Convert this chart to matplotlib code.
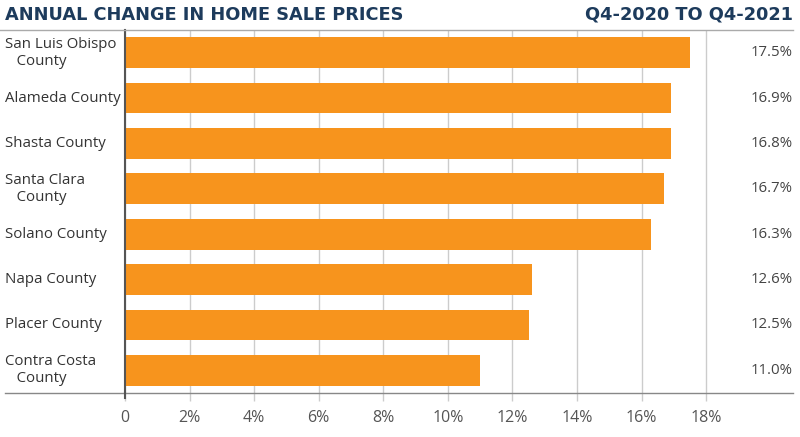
import matplotlib.pyplot as plt
from matplotlib.lines import Line2D

counties = ["San Luis Obispo\n   County", "Alameda County", "Shasta County",
            "Santa Clara\n   County", "Solano County", "Napa County",
            "Placer County", "Contra Costa\n   County"]
bar_values = [17.5, 16.9, 16.9, 16.7, 16.3, 12.6, 12.5, 11.0]
value_labels = ["17.5%", "16.9%", "16.8%", "16.7%", "16.3%", "12.6%", "12.5%", "11.0%"]
xticks = [0, 2, 4, 6, 8, 10, 12, 14, 16, 18]
xtick_labels = ["0", "2%", "4%", "6%", "8%", "10%", "12%", "14%", "16%", "18%"]

plt.rcParams['font.family'] = ['Open Sans', 'DejaVu Sans']

W, H = 800, 437
fig = plt.figure(figsize=(8, 4.37), dpi=100)
ax = fig.add_axes([125 / W, 1 - 393 / H, (793 - 125) / W, (393 - 30) / H])

ypos = list(range(len(counties)))
ax.barh(ypos, bar_values, height=0.68, color="#F7941D", zorder=3)
ax.set_ylim(len(counties) - 0.5, -0.5)
ax.set_xlim(0, 20.69)

ax.set_xticks(xticks)
ax.set_xticklabels(xtick_labels, fontsize=11.5, color="#555555")
ax.tick_params(axis='x', length=6, color="#cccccc", pad=6, width=1)
ax.set_yticks([])
ax.grid(axis='x', color="#cccccc", linewidth=1, zorder=0)

for s in ["top", "right"]:
    ax.spines[s].set_visible(False)
ax.spines["left"].set_color("#555555")
ax.spines["left"].set_linewidth(1.5)
ax.spines["left"].set_zorder(4)
ax.spines["bottom"].set_visible(False)

# horizontal rules across the figure
fig.add_artist(Line2D([0, 793 / W], [1 - 30 / H, 1 - 30 / H], color="#aaaaaa", lw=1))
fig.add_artist(Line2D([5 / W, 793 / W], [1 - 393 / H, 1 - 393 / H], color="#888888", lw=1))
fig.add_artist(Line2D([125 / W, 125 / W], [1 - 398 / H, 1 - 393 / H], color="#555555", lw=1.5))

for i, name in enumerate(counties):
    y = 1 - (30 + (i + 0.5) * 363 / 8) / H
    fig.text(5 / W, y, name, ha="left", va="center", fontsize=10.8,
             color="#333333", linespacing=1.2)
    fig.text(793 / W, y, value_labels[i], ha="right", va="center", fontsize=10.8,
             color="#444444", fontweight="medium")

title_font = dict(family=['DejaVu Sans'], fontsize=12.8, fontweight="bold", color="#1d3b5c")
fig.text(5 / W, 1 - 15 / H, "ANNUAL CHANGE IN HOME SALE PRICES", ha="left", va="center",
         **title_font)
fig.text(793 / W, 1 - 15 / H, "Q4-2020 TO Q4-2021", ha="right", va="center",
         **title_font)

fig.savefig("out.png", dpi=100)
